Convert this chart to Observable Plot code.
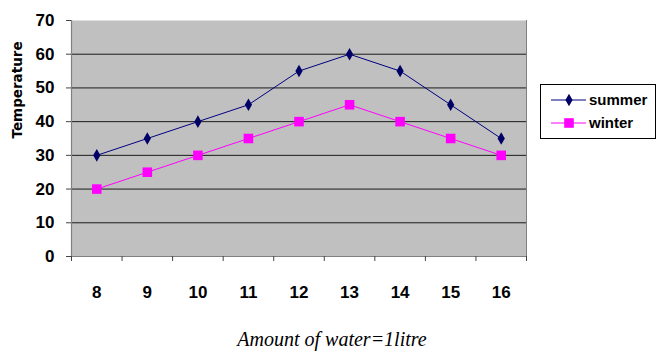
<!DOCTYPE html>
<html>
<head>
<meta charset="utf-8">
<script src="https://cdn.jsdelivr.net/npm/d3@7"></script>
<script src="https://cdn.jsdelivr.net/npm/@observablehq/plot@0.6"></script>
<style>
  html, body { margin: 0; padding: 0; background: #fff; }
  #chart { width: 657px; height: 356px; }
</style>
</head>
<body>
<div id="chart"></div>
<script>
const categories = [8, 9, 10, 11, 12, 13, 14, 15, 16];
const summer = [30, 35, 40, 45, 55, 60, 55, 45, 35];
const winter = [20, 25, 30, 35, 40, 45, 40, 35, 30];
const yTicks = [0, 10, 20, 30, 40, 50, 60, 70];
const seriesNames = ["summer", "winter"];
const yLabel = "Temperature";
const caption = "Amount of water=1litre";

const sData = categories.map((c, i) => ({x: c, y: summer[i]}));
const wData = categories.map((c, i) => ({x: c, y: winter[i]}));
const boundaries = categories.map(c => c - 0.5).concat([categories[categories.length - 1] + 0.5]);

const tickFont = {fontFamily: "'Liberation Sans', Arial, sans-serif", fontWeight: "bold", fontSize: 17, fill: "#000"};

const plot = Plot.plot({
  width: 657, height: 356,
  marginLeft: 71, marginRight: 131, marginTop: 20, marginBottom: 100,
  x: {domain: [boundaries[0], boundaries[boundaries.length - 1]]},
  y: {domain: [0, 70]},
  style: {background: "#fff", overflow: "visible"},
  marks: [
    Plot.frame({fill: "#c0c0c0", stroke: null}),
    Plot.ruleY(yTicks.filter(d => d > 0 && d < 70), {stroke: "#1a1a1a", strokeWidth: 1}),
    Plot.ruleY([0], {stroke: "#808080", strokeWidth: 1.2}),
    Plot.ruleX([boundaries[0]], {stroke: "#808080", strokeWidth: 1.2}),
    Plot.ruleX([boundaries[boundaries.length - 1]], {stroke: "#808080", strokeWidth: 1}),
    Plot.axisY({ticks: yTicks, tickSize: 5, tickPadding: 12, label: null, stroke: "#444", ...tickFont}),
    Plot.axisX({ticks: boundaries, tickSize: 5, tickFormat: () => "", label: null, stroke: "#444"}),
    Plot.axisX({ticks: categories, tickSize: 0, tickPadding: 29, tickFormat: d => String(d), label: null, ...tickFont}),
    Plot.text([yLabel], {frameAnchor: "left", rotate: -90, dx: -54, fontFamily: "'DejaVu Sans', sans-serif", fontWeight: "bold", fontSize: 13.5, fill: "#000"}),
    Plot.line(sData, {x: "x", y: "y", stroke: "#000080", strokeWidth: 1}),
    Plot.line(wData, {x: "x", y: "y", stroke: "#ff00ff", strokeWidth: 1}),
    Plot.dot(sData, {x: "x", y: "y", symbol: "diamond", r: 3.8, fill: "#000066", stroke: "none"}),
    Plot.dot(wData, {x: "x", y: "y", symbol: "square", r: 5.4, fill: "#ff00ff", stroke: "none"}),
    Plot.text([caption], {frameAnchor: "bottom", dy: 89, dx: 33, fontFamily: "'Liberation Serif', 'Times New Roman', serif", fontStyle: "italic", fontSize: 20, fill: "#000"})
  ]
});

// Legend
const svg = d3.select(plot);
const lg = svg.append("g").attr("text-anchor", "start");
lg.append("rect").attr("x", 540.5).attr("y", 84.5).attr("width", 115).attr("height", 54)
  .attr("fill", "#fff").attr("stroke", "#000").attr("stroke-width", 1);
const items = [
  {name: seriesNames[0], color: "#000080", mark: "#000066", sym: d3.symbolDiamond, size: 45, y: 100},
  {name: seriesNames[1], color: "#ff00ff", mark: "#ff00ff", sym: d3.symbolSquare, size: 92, y: 123}
];
items.forEach(it => {
  lg.append("line").attr("x1", 551).attr("x2", 586).attr("y1", it.y).attr("y2", it.y)
    .attr("stroke", it.color).attr("stroke-width", 1);
  lg.append("path").attr("d", d3.symbol(it.sym, it.size)()).attr("transform", `translate(569,${it.y})`)
    .attr("fill", it.mark);
  lg.append("text").attr("x", 589).attr("y", it.y).attr("dy", "0.35em")
    .attr("text-anchor", "start")
    .attr("font-family", "'Liberation Sans', Arial, sans-serif").attr("font-weight", "bold")
    .attr("font-size", 15).attr("fill", "#000").text(it.name);
});

document.getElementById("chart").appendChild(plot);
</script>
</body>
</html>
